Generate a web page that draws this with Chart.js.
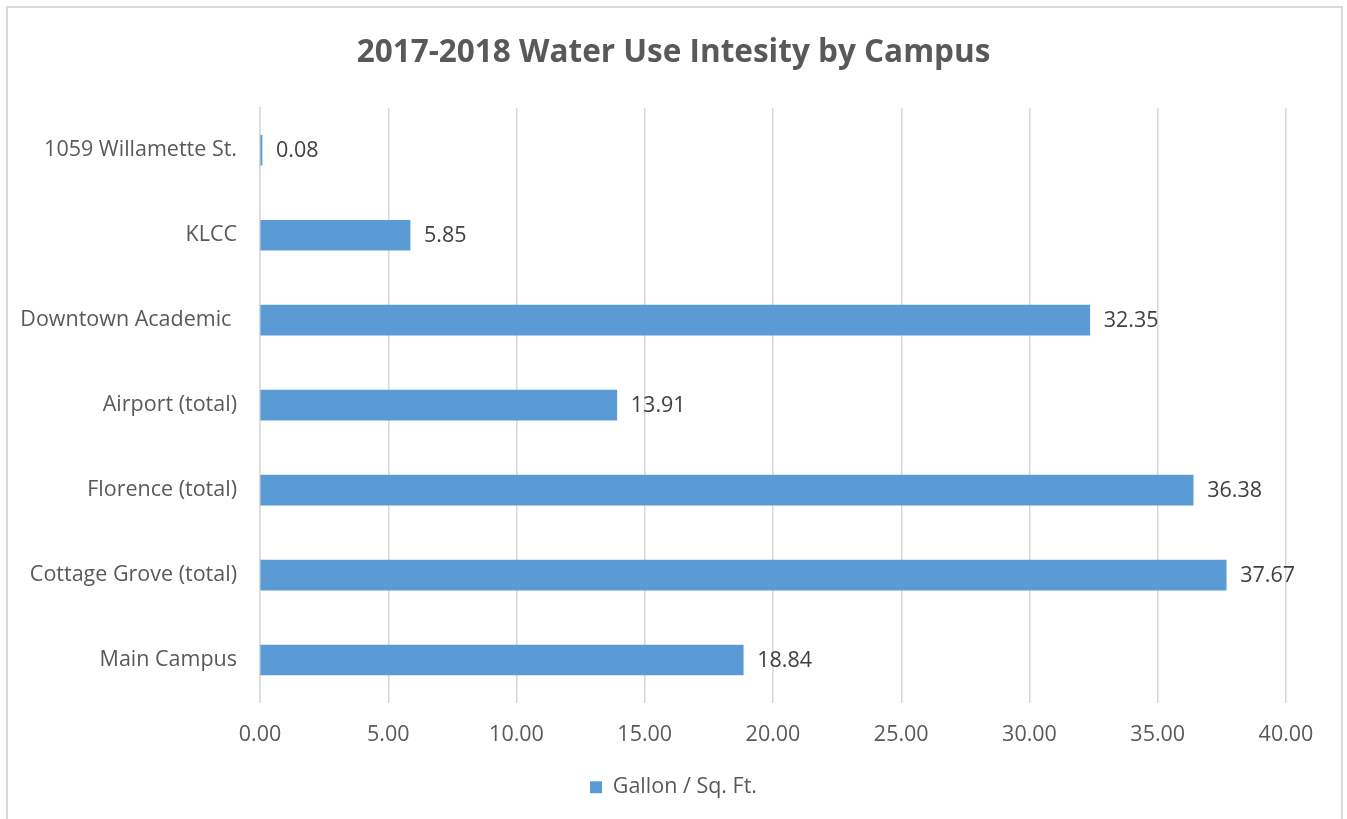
<!DOCTYPE html>
<html>
<head>
<meta charset="utf-8">
<script src="https://cdn.jsdelivr.net/npm/chart.js@4.4.0/dist/chart.umd.min.js"></script>
<style>
  html, body { margin: 0; padding: 0; background: #fff; }
  #wrap { width: 1347px; height: 819px; position: relative; }
</style>
</head>
<body>
<div id="wrap"><canvas id="myChart"></canvas></div>
<script>
const campuses = ['1059 Willamette St.', 'KLCC', 'Downtown Academic ', 'Airport (total)', 'Florence (total)', 'Cottage Grove (total)', 'Main Campus'];
const gallonPerSqFt = [0.08, 5.85, 32.35, 13.91, 36.38, 37.67, 18.84];
const seriesName = 'Gallon / Sq. Ft.';
const chartTitle = '2017-2018 Water Use Intesity by Campus';

const ctx = document.getElementById('myChart').getContext('2d');
Chart.defaults.font.family = '"Open Sans", Lato, sans-serif';
Chart.defaults.color = '#595959';
const textSize = 21.5;

// white background + frame like the exported picture
const frame = {
  id: 'frame',
  beforeDraw(chart) {
    const c = chart.ctx;
    c.save();
    c.fillStyle = '#fff';
    c.fillRect(0, 0, chart.width, chart.height);
    c.strokeStyle = '#d9d9d9';
    c.lineWidth = 2;
    c.strokeRect(7, 7, 1335, 830);
    c.restore();
  }
};

// value labels at the end of each bar
const valueLabels = {
  id: 'valueLabels',
  afterDatasetsDraw(chart) {
    const c = chart.ctx;
    const meta = chart.getDatasetMeta(0);
    c.save();
    c.font = textSize + 'px "Open Sans", Lato, sans-serif';
    c.fillStyle = '#404040';
    c.textAlign = 'left';
    c.textBaseline = 'middle';
    meta.data.forEach((bar, i) => {
      c.fillText(gallonPerSqFt[i].toFixed(2), bar.x + 14, bar.y + 1);
    });
    c.restore();
  }
};

new Chart(ctx, {
  type: 'bar',
  data: {
    labels: campuses,
    datasets: [{
      label: seriesName,
      data: gallonPerSqFt,
      backgroundColor: '#5b9bd5',
      barThickness: 30
    }]
  },
  options: {
    indexAxis: 'y',
    responsive: true,
    maintainAspectRatio: false,
    animation: false,
    layout: { padding: { left: 0, right: 0, top: 0, bottom: 11 } },
    plugins: {
      title: {
        display: true,
        text: chartTitle,
        color: '#595959',
        font: { size: 31.5, weight: 'bold' },
        padding: { top: 34, bottom: 36 }
      },
      legend: {
        position: 'bottom',
        labels: {
          boxWidth: 12,
          boxHeight: 12,
          padding: 7,
          color: '#595959',
          font: { size: textSize }
        }
      },
      tooltip: { enabled: false }
    },
    scales: {
      x: {
        min: 0,
        max: 40,
        ticks: {
          stepSize: 5,
          padding: 19,
          color: '#595959',
          font: { size: textSize },
          callback: v => v.toFixed(2)
        },
        grid: { color: '#d9d9d9', lineWidth: 1.5, drawTicks: false },
        border: { display: false },
        afterFit(scale) { scale.height = 67; }
      },
      y: {
        ticks: { padding: 23, color: '#595959', font: { size: textSize } },
        grid: { display: false, drawTicks: false },
        border: { color: '#d9d9d9', width: 1.5 },
        afterFit(scale) { scale.width = 260; }
      },
      // empty right-hand axis, only keeps the plot clear of the right frame
      yRight: {
        type: 'category',
        position: 'right',
        ticks: { display: false },
        grid: { display: false, drawTicks: false },
        border: { display: false },
        afterFit(scale) { scale.width = 61; }
      }
    }
  },
  plugins: [frame, valueLabels]
});
</script>
</body>
</html>
